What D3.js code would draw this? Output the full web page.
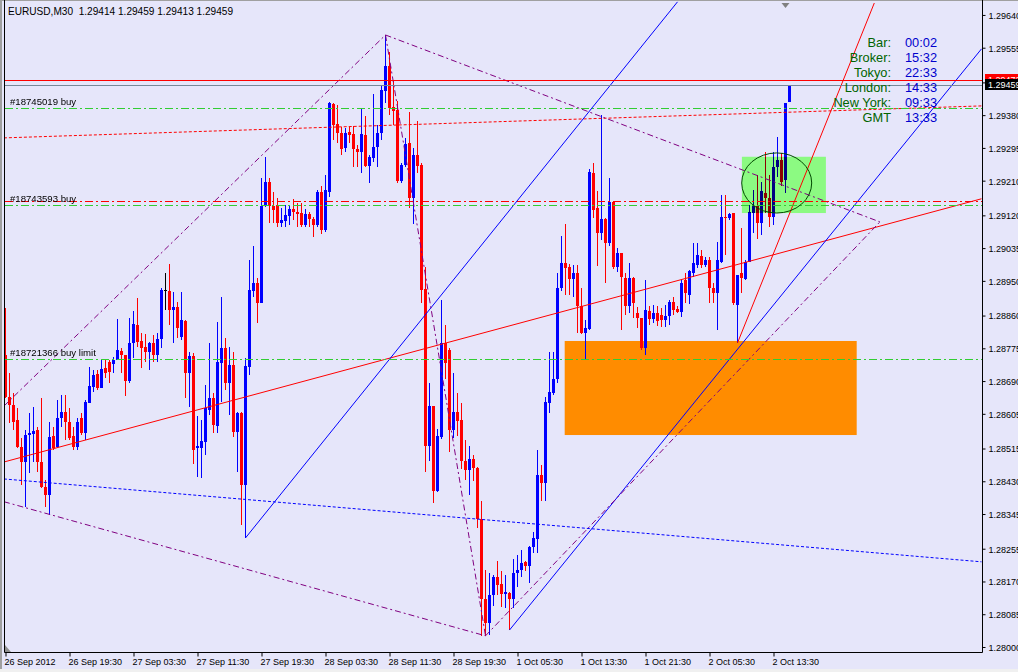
<!DOCTYPE html>
<html><head><meta charset="utf-8">
<script src="https://cdnjs.cloudflare.com/ajax/libs/d3/7.8.5/d3.min.js"></script>
<style>
html,body{margin:0;padding:0;background:#E6E6FA;}
svg{display:block;}
text{font-family:"Liberation Sans",Arial,sans-serif;white-space:pre;}
</style></head><body><svg id="c" width="1018" height="672"></svg>
<script>
// ---- DATA (EURUSD M30, one value per bar, bar 0 = 26 Sep 2012 11:30) ----
const open=[1.28758,1.28649,1.28628,1.28589,1.28519,1.28480,1.28550,1.28553,1.28563,1.28480,
1.28415,1.28394,1.28548,1.28519,1.28594,1.28610,1.28584,1.28548,1.28519,1.28594,
1.28555,1.28633,1.28675,1.28708,1.28672,1.28724,1.28740,1.28734,1.28745,1.28768,
1.28758,1.28690,1.28789,1.28836,1.28794,1.28779,1.28766,1.28789,1.28758,1.28799,
1.28926,1.28924,1.28875,1.28882,1.28805,1.28846,1.28711,1.28755,1.28516,1.28516,
1.28532,1.28615,1.28646,1.28574,1.28737,1.28776,1.28685,1.28732,1.28558,1.28607,
1.28420,1.28727,1.28924,1.28945,1.28893,1.29144,1.29207,1.29144,1.29147,1.29100,
1.29105,1.29118,1.29137,1.29129,1.29126,1.29095,1.29124,1.29111,1.29095,1.29181,
1.29082,1.29181,1.29409,1.29357,1.29334,1.29295,1.29336,1.29331,1.29292,1.29285,
1.29329,1.29248,1.29269,1.29298,1.29334,1.29443,1.29508,1.29401,1.29394,1.29209,
1.29251,1.29308,1.29165,1.29277,1.29251,1.28929,1.28522,1.28625,1.28405,1.28545,
1.28789,1.28771,1.28563,1.28610,1.28589,1.28483,1.28459,1.28488,1.28465,1.28332,
1.28125,1.28062,1.28135,1.28182,1.28164,1.28138,1.28140,1.28125,1.28192,1.28200,
1.28221,1.28210,1.28260,1.28280,1.28446,1.28426,1.28633,1.28659,1.28695,1.28932,
1.28997,1.28986,1.28955,1.28971,1.28885,1.28815,1.28825,1.29230,1.29139,1.29074,
1.29111,1.29048,1.29155,1.28986,1.29023,1.28958,1.28885,1.28958,1.28867,1.28854,
1.28776,1.28872,1.28851,1.28867,1.28862,1.28849,1.28859,1.28895,1.28877,1.28869,
1.28952,1.28914,1.28971,1.28991,1.29015,1.28991,1.29004,1.28932,1.28919,1.28999,
1.29116,1.29113,1.29126,1.28887,1.28971,1.28955,1.28999,1.29126,1.29144,1.29100,
1.29178,1.29165,1.29116,1.29246,1.29264,1.29212,1.29414];
const high=[1.28880,1.28711,1.28659,1.28620,1.28542,1.28563,1.28607,1.28623,1.28571,1.28646,
1.28433,1.28584,1.28571,1.28641,1.28654,1.28654,1.28620,1.28571,1.28594,1.28607,
1.28641,1.28727,1.28719,1.28719,1.28745,1.28745,1.28745,1.28753,1.28851,1.28776,
1.28758,1.28854,1.28872,1.28906,1.28815,1.28812,1.28792,1.28810,1.28815,1.28932,
1.28971,1.28994,1.28921,1.28895,1.28921,1.28849,1.28766,1.28763,1.28599,1.28589,
1.28680,1.28789,1.28659,1.28843,1.28908,1.28802,1.28779,1.28766,1.28610,1.28610,
1.28750,1.29004,1.29041,1.28958,1.29217,1.29272,1.29217,1.29181,1.29165,1.29139,
1.29147,1.29144,1.29163,1.29152,1.29152,1.29137,1.29129,1.29116,1.29186,1.29196,
1.29225,1.29414,1.29412,1.29407,1.29349,1.29347,1.29349,1.29352,1.29303,1.29399,
1.29378,1.29277,1.29435,1.29355,1.29458,1.29588,1.29544,1.29471,1.29417,1.29256,
1.29321,1.29388,1.29295,1.29365,1.29256,1.28986,1.28685,1.28625,1.28566,1.28900,
1.28836,1.28776,1.28711,1.28659,1.28633,1.28537,1.28522,1.28498,1.28467,1.28379,
1.28200,1.28192,1.28187,1.28223,1.28197,1.28187,1.28143,1.28228,1.28239,1.28252,
1.28223,1.28262,1.28299,1.28511,1.28472,1.28649,1.28766,1.28766,1.28971,1.29067,
1.29098,1.28994,1.28991,1.28991,1.28932,1.28849,1.29241,1.29256,1.29183,1.29381,
1.29113,1.29217,1.29155,1.29035,1.29023,1.28971,1.28997,1.28960,1.28882,1.28854,
1.28952,1.28885,1.28887,1.28885,1.28880,1.28887,1.28900,1.28908,1.28885,1.28952,
1.28971,1.28978,1.29048,1.29048,1.29030,1.29012,1.29012,1.28945,1.29051,1.29173,
1.29173,1.29126,1.29126,1.28965,1.29087,1.29004,1.29147,1.29186,1.29225,1.29207,
1.29285,1.29225,1.29285,1.29323,1.29282,1.29412,1.29459];
const low=[1.28646,1.28581,1.28563,1.28516,1.28420,1.28363,1.28452,1.28480,1.28454,1.28413,
1.28363,1.28343,1.28511,1.28516,1.28571,1.28537,1.28537,1.28511,1.28511,1.28550,
1.28537,1.28633,1.28662,1.28667,1.28672,1.28698,1.28685,1.28711,1.28745,1.28711,
1.28651,1.28685,1.28750,1.28779,1.28724,1.28740,1.28719,1.28740,1.28740,1.28776,
1.28875,1.28836,1.28789,1.28802,1.28797,1.28646,1.28623,1.28475,1.28441,1.28439,
1.28498,1.28602,1.28555,1.28555,1.28636,1.28667,1.28602,1.28545,1.28454,1.28317,
1.28283,1.28706,1.28908,1.28841,1.28893,1.29142,1.29100,1.29100,1.29090,1.29090,
1.29090,1.29095,1.29108,1.29090,1.29090,1.29090,1.29090,1.29064,1.29090,1.29072,
1.29077,1.29168,1.29316,1.29308,1.29277,1.29285,1.29308,1.29246,1.29246,1.29230,
1.29246,1.29204,1.29259,1.29246,1.29316,1.29412,1.29381,1.29355,1.29204,1.29204,
1.29246,1.29139,1.29098,1.29230,1.28893,1.28454,1.28483,1.28374,1.28402,1.28540,
1.28695,1.28506,1.28542,1.28548,1.28462,1.28433,1.28394,1.28431,1.28309,1.28029,
1.28029,1.28031,1.28106,1.28135,1.28104,1.28101,1.28044,1.28101,1.28156,1.28182,
1.28197,1.28166,1.28244,1.28244,1.28379,1.28379,1.28607,1.28654,1.28685,1.28924,
1.28914,1.28914,1.28908,1.28815,1.28812,1.28747,1.28823,1.29113,1.28989,1.29056,
1.28945,1.29041,1.28981,1.28973,1.28823,1.28862,1.28867,1.28854,1.28828,1.28771,
1.28758,1.28836,1.28841,1.28833,1.28831,1.28831,1.28836,1.28862,1.28867,1.28857,
1.28893,1.28890,1.28960,1.28984,1.28984,1.28986,1.28893,1.28893,1.28823,1.28997,
1.29017,1.29108,1.28887,1.28789,1.28919,1.28952,1.28999,1.29074,1.29059,1.29069,
1.29126,1.29090,1.29095,1.29220,1.29196,1.29178,1.29413];
const close=[1.28649,1.28628,1.28584,1.28519,1.28480,1.28550,1.28555,1.28561,1.28480,1.28415,
1.28394,1.28545,1.28516,1.28594,1.28610,1.28584,1.28542,1.28519,1.28584,1.28555,
1.28636,1.28677,1.28706,1.28672,1.28721,1.28711,1.28714,1.28745,1.28771,1.28758,
1.28690,1.28789,1.28838,1.28792,1.28776,1.28766,1.28789,1.28758,1.28799,1.28926,
1.28926,1.28875,1.28882,1.28828,1.28849,1.28711,1.28755,1.28511,1.28522,1.28535,
1.28620,1.28646,1.28576,1.28740,1.28776,1.28685,1.28732,1.28558,1.28607,1.28420,
1.28729,1.28926,1.28945,1.28893,1.29144,1.29207,1.29144,1.29134,1.29100,1.29108,
1.29121,1.29137,1.29129,1.29124,1.29095,1.29124,1.29111,1.29095,1.29181,1.29082,
1.29186,1.29412,1.29355,1.29334,1.29292,1.29334,1.29329,1.29292,1.29285,1.29331,
1.29248,1.29272,1.29298,1.29334,1.29445,1.29508,1.29399,1.29391,1.29209,1.29251,
1.29305,1.29165,1.29277,1.29248,1.28926,1.28522,1.28625,1.28405,1.28548,1.28789,
1.28737,1.28563,1.28610,1.28586,1.28483,1.28459,1.28488,1.28465,1.28332,1.28125,
1.28062,1.28135,1.28182,1.28161,1.28138,1.28143,1.28125,1.28192,1.28200,1.28218,
1.28210,1.28260,1.28283,1.28446,1.28426,1.28636,1.28662,1.28695,1.28932,1.28997,
1.28984,1.28955,1.28971,1.28885,1.28815,1.28828,1.29233,1.29134,1.29074,1.29111,
1.29048,1.29155,1.28986,1.29023,1.28960,1.28885,1.28958,1.28893,1.28854,1.28776,
1.28875,1.28851,1.28867,1.28846,1.28849,1.28859,1.28895,1.28875,1.28869,1.28945,
1.28919,1.28976,1.28997,1.29017,1.28991,1.29004,1.28932,1.28919,1.29004,1.29116,
1.29113,1.29124,1.28893,1.28965,1.28958,1.28999,1.29129,1.29144,1.29100,1.29183,
1.29165,1.29116,1.29246,1.29264,1.29207,1.29412,1.29459];

const yTickValues=[1.28000,1.28085,1.28170,1.28255,1.28345,1.28430,1.28515,1.28605,1.28690,1.28775,
1.28860,1.28950,1.29035,1.29120,1.29210,1.29295,1.29380,1.29465,1.29555,1.29640];
const xTickBars=[0,16,32,48,64,80,96,112,128,144,160,176,192];
const xTickLabels=["26 Sep 2012","26 Sep 19:30","27 Sep 03:30","27 Sep 11:30","27 Sep 19:30","28 Sep 03:30",
"28 Sep 11:30","28 Sep 19:30","1 Oct 05:30","1 Oct 13:30","1 Oct 21:30","2 Oct 05:30","2 Oct 13:30"];

const titleText="EURUSD,M30  1.29414 1.29459 1.29413 1.29459";
const askPrice=1.29472, bidPrice=1.29459;

// order lines
const orderPrices=[1.29399,1.29147,1.28747];
const orderLabels=["#18745019 buy","#18743593 buy","#18721366 buy limit"];
const slPrices=[1.29156];

// trend lines [bar1, price1, bar2, price2]
const redDotLine=[-0.4,1.29321,244,1.29404];
const redSolidLine=[-0.4,1.28480,244,1.29163];
const blueDotLine=[-0.4,1.28436,244,1.28221];
const redSteepLine=[183,1.28789,217.2,1.29671];
const blueLine1=[60,1.28283,168,1.29674];
const blueLine2=[126,1.28044,244,1.29552];
const purpleLines=[
 [-0.4,1.28625,95,1.29588],
 [95,1.29588,218.6,1.29103],
 [95,1.29588,120,1.28029],
 [-0.4,1.28377,120,1.28029],
 [120,1.28029,218.6,1.29103]
];
// rectangles [bar1, price1, bar2, price2]
const orangeRect=[139.8,1.28794,212.8,1.28550];
const greenRect=[184.1,1.29272,205.1,1.29126];
// ellipse [centre bar, centre price, half width in bars, half height in price]
const ellipseObj=[192.8,1.29204,8.75,0.00078];

const infoLabels=["Bar:","Broker:","Tokyo:","London:","New York:","GMT"];
const infoValues=["00:02","15:32","22:33","14:33","09:33","13:33"];

// ---- DRAW ----
const svg=d3.select("#c");
const W=1018,H=672, L=4.5, R=982.5, B=652.5;
const x=d3.scaleLinear().domain([0,244]).range([5.5,981.5]);
const y=d3.scaleLinear().domain([1.27987,1.29671]).range([652,3]);
const bars=d3.range(open.length);

svg.append("rect").attr("width",W).attr("height",H).attr("fill","#E6E6FA");
svg.append("rect").attr("x",0).attr("y",669).attr("width",W).attr("height",3).attr("fill","#F0F0F0");
svg.append("rect").attr("x",0).attr("y",0).attr("width",2).attr("height",669).attr("fill","#A0A0A0");
svg.append("rect").attr("x",0).attr("y",0).attr("width",W).attr("height",1).attr("fill","#A0A0A0");

svg.append("defs").append("clipPath").attr("id","pc").append("rect")
 .attr("x",5).attr("y",0).attr("width",977).attr("height",652);
const plot=svg.append("g").attr("clip-path","url(#pc)");

// orange rectangle (background)
plot.append("rect")
 .attr("x",x(orangeRect[0])).attr("y",y(orangeRect[1]))
 .attr("width",x(orangeRect[2])-x(orangeRect[0])).attr("height",y(orangeRect[3])-y(orangeRect[1]))
 .attr("fill","#FF8C00");

// candles
const cg=plot.append("g").attr("shape-rendering","crispEdges");
const col=i=> close[i]>open[i]?"#0000FF":(close[i]<open[i]?"#FF0000":"#000000");
cg.selectAll("line.w").data(bars).join("line")
 .attr("x1",i=>x(i)).attr("x2",i=>x(i))
 .attr("y1",i=>y(high[i])).attr("y2",i=>y(low[i]))
 .attr("stroke",col).attr("stroke-width",1);
cg.selectAll("rect.b").data(bars).join("rect")
 .attr("x",i=>x(i)-1.5).attr("width",3)
 .attr("y",i=>y(Math.max(open[i],close[i])))
 .attr("height",i=>Math.max(1,Math.abs(y(open[i])-y(close[i]))))
 .attr("fill",col);

// green rectangle (drawn over candles, multiplied)
plot.append("rect")
 .attr("x",x(greenRect[0])).attr("y",y(greenRect[1]))
 .attr("width",x(greenRect[2])-x(greenRect[0])).attr("height",y(greenRect[3])-y(greenRect[1]))
 .attr("fill","rgb(140,250,130)").style("mix-blend-mode","multiply");

function seg(arr,color,dash,w){
 plot.append("line").attr("x1",x(arr[0])).attr("y1",y(arr[1])).attr("x2",x(arr[2])).attr("y2",y(arr[3]))
  .attr("stroke",color).attr("stroke-width",w||1).attr("stroke-dasharray",dash||null);
}
function hline(p,color,dash){
 plot.append("line").attr("x1",5).attr("x2",982).attr("y1",Math.round(y(p))+0.5).attr("y2",Math.round(y(p))+0.5)
  .attr("stroke",color).attr("stroke-width",1).attr("stroke-dasharray",dash||null);
}

seg(redDotLine,"#FF0000","3,2");
seg(blueDotLine,"#0000FF","3,2");
seg(redSolidLine,"#FF0000");
seg(redSteepLine,"#FF0000");
seg(blueLine1,"#0000FF");
seg(blueLine2,"#0000FF");
purpleLines.forEach(l=>seg(l,"#800080","6,3,2,3"));

hline(askPrice,"#FF0000");
hline(bidPrice,"#778899");
slPrices.forEach(p=>hline(p,"#FF0000","8,3,2,3"));
orderPrices.forEach(p=>hline(p,"#32CD32","8,3,2,3"));

// ellipse
plot.append("ellipse")
 .attr("cx",x(ellipseObj[0])).attr("cy",y(ellipseObj[1]))
 .attr("rx",x(ellipseObj[0]+ellipseObj[2])-x(ellipseObj[0]))
 .attr("ry",y(ellipseObj[1]-ellipseObj[3])-y(ellipseObj[1]))
 .attr("fill","none").attr("stroke","#004800").attr("stroke-width",1);

// order labels
plot.selectAll("text.ol").data(orderPrices).join("text")
 .attr("x",10).attr("y",p=>Math.round(y(p))-3)
 .attr("font-size","9.6px").attr("fill","#000").text((p,i)=>orderLabels[i]);

// chart-shift marker
svg.append("path").attr("d",`M${x(195)-4},3 L${x(195)+4},3 L${x(195)},8 Z`).attr("fill","#808080");
svg.append("path").attr("d","M5,645 L5,652 L11,652 Z").attr("fill","#909090");

// frame
svg.append("path").attr("d",`M${L},0 V${B} H${R} V0`).attr("fill","none").attr("stroke","#000").attr("stroke-width",1);

// right axis
const ay=svg.append("g").attr("transform",`translate(${R},0)`)
 .call(d3.axisRight(y).tickValues(yTickValues).tickSize(3).tickPadding(3).tickFormat(d3.format(".5f")));
ay.select(".domain").remove();
ay.selectAll("text").attr("font-size","9px").attr("font-family","'Liberation Sans',Arial,sans-serif").attr("fill","#000").attr("dy","0.38em");
ay.selectAll("line").attr("stroke","#000");

// bottom axis
const ax=svg.append("g").attr("transform",`translate(0,${B})`)
 .call(d3.axisBottom(x).tickValues(xTickBars).tickSize(4).tickPadding(2.6).tickFormat((d,i)=>xTickLabels[i]));
ax.select(".domain").remove();
ax.selectAll("text").attr("font-size","9px").attr("font-family","'Liberation Sans',Arial,sans-serif")
 .attr("fill","#000").attr("text-anchor","start").attr("x",-1.5);
ax.selectAll("line").attr("stroke","#000");

// price boxes
function priceBox(p,color){
 const cy=y(p);
 svg.append("rect").attr("x",985).attr("y",Math.round(cy-5.5)).attr("width",40).attr("height",11).attr("fill",color);
 svg.append("text").attr("x",988).attr("y",cy+3.3).attr("font-size","9px").attr("fill","#fff").text(d3.format(".5f")(p));
}
priceBox(askPrice,"#FF0000");
priceBox(bidPrice,"#000000");

// title
svg.append("text").attr("x",8).attr("y",14.5).attr("font-size","10.1px").attr("fill","#000")
 .attr("xml:space","preserve").text(titleText);

// info panel
const ip=svg.append("g");
ip.selectAll("text.l").data(infoLabels).join("text")
 .attr("x",891).attr("y",(d,i)=>46.7+15*i).attr("text-anchor","end")
 .attr("font-size","12.8px").attr("fill","#006400").text(d=>d);
ip.selectAll("text.v").data(infoValues).join("text")
 .attr("x",905).attr("y",(d,i)=>46.7+15*i)
 .attr("font-size","12.8px").attr("fill","#0000CD").text(d=>d);
</script></body></html>
